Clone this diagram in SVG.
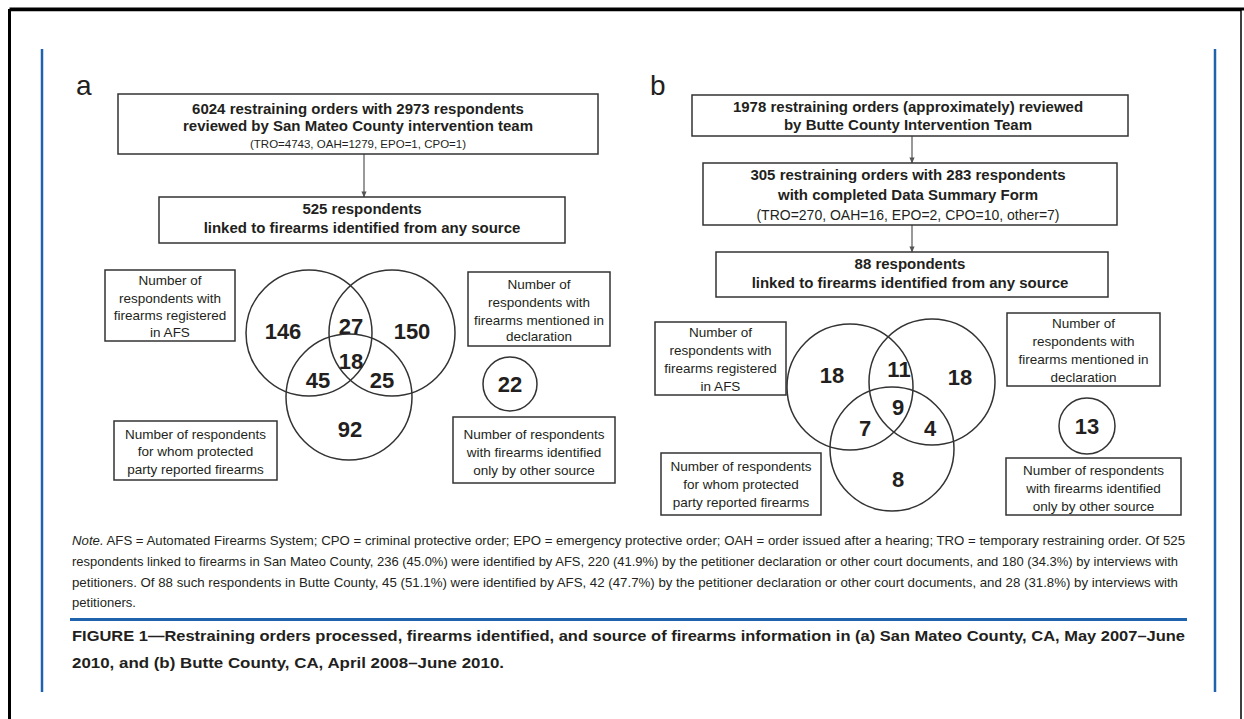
<svg xmlns="http://www.w3.org/2000/svg" width="1244" height="719" viewBox="0 0 1244 719">
<defs>
<marker id="ah" viewBox="0 0 8 8" refX="7.5" refY="4" markerWidth="6" markerHeight="6" orient="auto" markerUnits="userSpaceOnUse">
<path d="M0,0.5 L8,4 L0,7.5 z" fill="#555"/>
</marker>
<style>
.box{fill:#fff;stroke:#333;stroke-width:1.5}
.circ{fill:none;stroke:#333;stroke-width:1.5}
text{font-family:"Liberation Sans",Arial,sans-serif;fill:#231f20}
.hb{font-weight:bold;font-size:15px;text-anchor:middle}
.sm{font-size:11.5px;text-anchor:middle}
.smb{font-size:14px;text-anchor:middle}
.lbl{font-size:13.5px;text-anchor:middle}
.num{font-weight:bold;font-size:22px;text-anchor:middle}
.note{font-size:13.5px}
.cap{font-weight:bold;font-size:15.5px}
.panel{font-size:28px}
.conn{stroke:#555;stroke-width:1.2;fill:none}
.blue{stroke:#1f63ad;fill:none}
</style>
</defs>
<rect x="0" y="0" width="1244" height="719" fill="#fff"/>
<g id="frame">
<path d="M9.5,719 V10.5 H1241 V719" fill="none" stroke="#000" stroke-width="1.5"/>
<line x1="9.5" y1="9" x2="1244" y2="9" stroke="#000" stroke-width="3"/>
<line x1="9.5" y1="9" x2="9.5" y2="719" stroke="#000" stroke-width="3"/>
<line class="blue" x1="42" y1="49" x2="42" y2="692" stroke-width="2.5"/>
<line class="blue" x1="1215" y1="49" x2="1215" y2="692" stroke-width="2.5"/>
<line class="blue" x1="70" y1="619.5" x2="1187" y2="619.5" stroke-width="3"/>
</g>
<text class="panel" x="76" y="95">a</text>
<text class="panel" x="650" y="95">b</text>
<g id="connectors">
<line class="conn" x1="364" y1="154" x2="364" y2="197" marker-end="url(#ah)"/>
<line class="conn" x1="912" y1="136" x2="912" y2="163" marker-end="url(#ah)"/>
<line class="conn" x1="912" y1="225" x2="912" y2="252" marker-end="url(#ah)"/>
</g>
<g id="a-reviewed">
<rect class="box" x="118" y="94" width="480" height="60"/>
<text class="hb" x="358" y="114">6024 restraining orders with 2973 respondents</text>
<text class="hb" x="358" y="131">reviewed by San Mateo County intervention team</text>
<text class="sm" x="358" y="148">(TRO=4743, OAH=1279, EPO=1, CPO=1)</text>
</g>
<g id="a-linked">
<rect class="box" x="159" y="197" width="406" height="46"/>
<text class="hb" x="362" y="214">525 respondents</text>
<text class="hb" x="362" y="233">linked to firearms identified from any source</text>
</g>
<g id="a-afs-label">
<rect class="box" x="105" y="270" width="130" height="71"/>
<text class="lbl" x="170" y="285">Number of</text>
<text class="lbl" x="170" y="302.5">respondents with</text>
<text class="lbl" x="170" y="319.5">firearms registered</text>
<text class="lbl" x="170" y="337">in AFS</text>
</g>
<g id="a-decl-label">
<rect class="box" x="468" y="272" width="142" height="74"/>
<text class="lbl" x="539" y="288.5">Number of</text>
<text class="lbl" x="539" y="306.5">respondents with</text>
<text class="lbl" x="539" y="324.5">firearms mentioned in</text>
<text class="lbl" x="539" y="340.5">declaration</text>
</g>
<g id="a-party-label">
<rect class="box" x="114" y="421" width="163" height="59"/>
<text class="lbl" x="195.5" y="438.5">Number of respondents</text>
<text class="lbl" x="195.5" y="455.5">for whom protected</text>
<text class="lbl" x="195.5" y="473.5">party reported firearms</text>
</g>
<g id="a-other-label">
<rect class="box" x="453" y="417" width="162" height="66"/>
<text class="lbl" x="534" y="438.5">Number of respondents</text>
<text class="lbl" x="534" y="456.5">with firearms identified</text>
<text class="lbl" x="534" y="474.5">only by other source</text>
</g>
<g id="a-venn">
<circle class="circ" cx="309" cy="333" r="63"/>
<circle class="circ" cx="392" cy="333" r="63"/>
<circle class="circ" cx="349" cy="397" r="63"/>
<text class="num" x="283" y="339">146</text>
<text class="num" x="351" y="334">27</text>
<text class="num" x="412" y="339">150</text>
<text class="num" x="351" y="369">18</text>
<text class="num" x="318" y="388">45</text>
<text class="num" x="382" y="388">25</text>
<text class="num" x="350" y="437">92</text>
</g>
<g id="a-other">
<circle class="circ" cx="510" cy="384" r="27"/>
<text class="num" x="510" y="392">22</text>
</g>
<g id="b-reviewed">
<rect class="box" x="692" y="95" width="436" height="41"/>
<text class="hb" x="908" y="111.5">1978 restraining orders (approximately) reviewed</text>
<text class="hb" x="908" y="130">by Butte County Intervention Team</text>
</g>
<g id="b-completed">
<rect class="box" x="703" y="163" width="414" height="62"/>
<text class="hb" x="908" y="180">305 restraining orders with 283 respondents</text>
<text class="hb" x="908" y="200">with completed Data Summary Form</text>
<text class="smb" x="908" y="219.5">(TRO=270, OAH=16, EPO=2, CPO=10, other=7)</text>
</g>
<g id="b-linked">
<rect class="box" x="716" y="252" width="392" height="45"/>
<text class="hb" x="910" y="268.5">88 respondents</text>
<text class="hb" x="910" y="288">linked to firearms identified from any source</text>
</g>
<g id="b-afs-label">
<rect class="box" x="655" y="322" width="131" height="73"/>
<text class="lbl" x="720.5" y="336.5">Number of</text>
<text class="lbl" x="720.5" y="355">respondents with</text>
<text class="lbl" x="720.5" y="373">firearms registered</text>
<text class="lbl" x="720.5" y="391">in AFS</text>
</g>
<g id="b-decl-label">
<rect class="box" x="1007" y="313" width="153" height="73"/>
<text class="lbl" x="1083.5" y="327.5">Number of</text>
<text class="lbl" x="1083.5" y="346">respondents with</text>
<text class="lbl" x="1083.5" y="364">firearms mentioned in</text>
<text class="lbl" x="1083.5" y="382">declaration</text>
</g>
<g id="b-party-label">
<rect class="box" x="661" y="453" width="160" height="62"/>
<text class="lbl" x="741" y="471">Number of respondents</text>
<text class="lbl" x="741" y="489">for whom protected</text>
<text class="lbl" x="741" y="507">party reported firearms</text>
</g>
<g id="b-other-label">
<rect class="box" x="1006" y="458" width="175" height="57"/>
<text class="lbl" x="1093.5" y="474.5">Number of respondents</text>
<text class="lbl" x="1093.5" y="493">with firearms identified</text>
<text class="lbl" x="1093.5" y="511">only by other source</text>
</g>
<g id="b-venn">
<circle class="circ" cx="850" cy="387" r="63"/>
<circle class="circ" cx="932" cy="382" r="63"/>
<circle class="circ" cx="892" cy="449" r="62"/>
<text class="num" x="832" y="383">18</text>
<text class="num" x="899" y="377">11</text>
<text class="num" x="960" y="385">18</text>
<text class="num" x="898" y="415">9</text>
<text class="num" x="865" y="436">7</text>
<text class="num" x="930" y="436">4</text>
<text class="num" x="898" y="487">8</text>
</g>
<g id="b-other">
<circle class="circ" cx="1087" cy="426" r="28"/>
<text class="num" x="1087" y="434">13</text>
</g>
<g id="note">
<text class="note" x="72" y="545" textLength="1113" lengthAdjust="spacingAndGlyphs"><tspan font-style="italic">Note.</tspan> AFS = Automated Firearms System; CPO = criminal protective order; EPO = emergency protective order; OAH = order issued after a hearing; TRO = temporary restraining order. Of 525</text>
<text class="note" x="72" y="566" textLength="1106" lengthAdjust="spacingAndGlyphs">respondents linked to firearms in San Mateo County, 236 (45.0%) were identified by AFS, 220 (41.9%) by the petitioner declaration or other court documents, and 180 (34.3%) by interviews with</text>
<text class="note" x="72" y="587" textLength="1106" lengthAdjust="spacingAndGlyphs">petitioners. Of 88 such respondents in Butte County, 45 (51.1%) were identified by AFS, 42 (47.7%) by the petitioner declaration or other court documents, and 28 (31.8%) by interviews with</text>
<text class="note" x="72" y="607" textLength="64" lengthAdjust="spacingAndGlyphs">petitioners.</text>
</g>
<g id="caption">
<text class="cap" x="72" y="640.5" textLength="1113" lengthAdjust="spacingAndGlyphs">FIGURE 1—Restraining orders processed, firearms identified, and source of firearms information in (a) San Mateo County, CA, May 2007–June</text>
<text class="cap" x="72" y="667.5" textLength="432" lengthAdjust="spacingAndGlyphs">2010, and (b) Butte County, CA, April 2008–June 2010.</text>
</g>
</svg>
